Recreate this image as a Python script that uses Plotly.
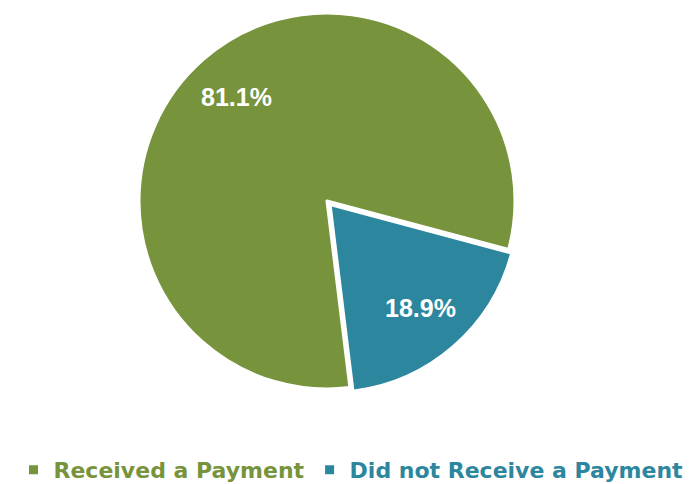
import math
import plotly.graph_objects as go

labels = ["Received a Payment", "Did not Receive a Payment"]
values = [81.1, 18.9]
colors = ["#77933C", "#2C879E"]
pulls = [0, 0.025]

# page body has an 8px margin, so the figure is 8px smaller than the window
W, H = 686, 476
ROTATION = 173              # first slice starts here, clockwise from 12 o'clock
CX, CY, R = 319, 193, 188   # pie centre / radius in figure pixels
LABEL_FRAC = 0.73

legend_names = [
    f"<span style='color:{c}'><b>{lab}</b></span>" for lab, c in zip(labels, colors)
]

# pie domain from centre/radius (plotly shrinks r by 1 + max pull)
half = R * (1 + max(pulls))
dom_x = [0, 2 * CX / W]
dom_y = [max(0, (H - CY - half) / H), min(1, (H - CY + half) / H)]

fig = go.Figure()
fig.add_trace(go.Pie(
    labels=legend_names,
    values=values,
    sort=False,
    direction="clockwise",
    rotation=ROTATION,
    pull=pulls,
    marker=dict(colors=colors, line=dict(color="white", width=3)),
    textinfo="none",
    hoverinfo="label+percent",
    domain=dict(x=dom_x, y=dom_y),
))

# percentage labels placed at each slice's mid angle
total = sum(values)
cum = 0
annotations = []
for v, p in zip(values, pulls):
    mid = math.radians(ROTATION + 360 * (cum + v / 2) / total)
    cum += v
    d = R * (LABEL_FRAC + p)
    px = CX + d * math.sin(mid)
    py = CY - d * math.cos(mid)
    annotations.append(dict(
        x=px / W, y=1 - py / H, xref="paper", yref="paper",
        text=f"<b>{v:.1f}%</b>", showarrow=False,
        xanchor="center", yanchor="middle",
        font=dict(family="Arial", size=25, color="white"),
    ))

fig.update_layout(
    width=W,
    height=H,
    paper_bgcolor="white",
    plot_bgcolor="white",
    font=dict(family="DejaVu Sans", size=22),
    margin=dict(l=0, r=0, t=0, b=0, autoexpand=False),
    showlegend=True,
    annotations=annotations,
    legend=dict(
        orientation="h",
        x=0.5,
        xanchor="center",
        y=1 - 462 / H,
        yanchor="middle",
        font=dict(family="DejaVu Sans", size=22),
        traceorder="normal",
        itemwidth=30,
    ),
)

fig.write_html("out.html")
